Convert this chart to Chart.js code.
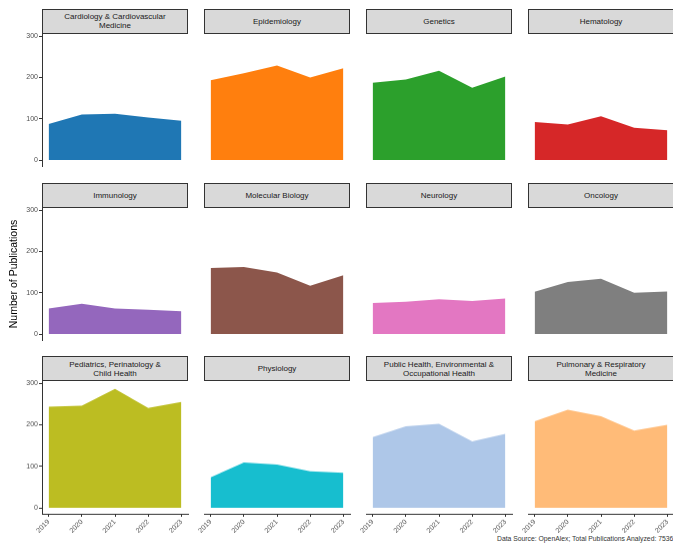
<!DOCTYPE html>
<html>
<head>
<meta charset="utf-8">
<script src="https://cdn.jsdelivr.net/npm/chart.js@4"></script>
<style>
  html, body { margin: 0; padding: 0; background: #fff; }
  body { width: 673px; height: 545px; position: relative; overflow: hidden; font-family: "Liberation Sans", Arial, sans-serif; }
  canvas { position: absolute; }
  .strip {
    position: absolute; box-sizing: border-box; height: 25px;
    background: #d9d9d9; border: 1px solid #333;
    display: flex; align-items: center; justify-content: center; text-align: center;
    font-size: 8px; line-height: 9px; color: #1a1a1a;
  }
  #caption { position: absolute; left: 497px; top: 535px; font-size: 6.8px; color: #333; white-space: nowrap; }
</style>
</head>
<body>
<div id="caption">Data Source: OpenAlex; Total Publications Analyzed: 7536</div>
<script>
const years = [2019, 2020, 2021, 2022, 2023];
const yTicks = [0, 100, 200, 300];

const fields = [
  'Cardiology & Cardiovascular Medicine', 'Epidemiology', 'Genetics', 'Hematology',
  'Immunology', 'Molecular Biology', 'Neurology', 'Oncology',
  'Pediatrics, Perinatology & Child Health', 'Physiology',
  'Public Health, Environmental & Occupational Health', 'Pulmonary & Respiratory Medicine'
];

const cardiology = [87, 110, 112, 103, 95];
const epidemiology = [193, 210, 229, 200, 222];
const genetics = [187, 195, 216, 175, 202];
const hematology = [92, 86, 106, 78, 72];
const immunology = [62, 73, 62, 59, 55];
const molecularBiology = [160, 162, 149, 117, 142];
const neurology = [75, 78, 84, 80, 86];
const oncology = [102, 126, 134, 100, 103];
const pediatrics = [243, 246, 286, 240, 255];
const physiology = [73, 109, 104, 88, 84];
const publicHealth = [170, 196, 202, 160, 178];
const pulmonary = [208, 236, 220, 186, 200];

const series = [cardiology, epidemiology, genetics, hematology, immunology, molecularBiology,
  neurology, oncology, pediatrics, physiology, publicHealth, pulmonary];

const colors = ['#1f77b4', '#ff7f0e', '#2ca02c', '#d62728', '#9467bd', '#8c564b',
  '#e377c2', '#7f7f7f', '#bcbd22', '#17becf', '#aec7e8', '#ffbb78'];

// panel geometry (plot area)
const colLeft = [42, 204, 366, 528];
const rowTop = [33.5, 207.5, 381];
const panelW = 146, panelH = 132.5;
const yAxisW = 40, xAxisH = 30;
const tickFont = { family: 'Liberation Sans', size: 7 };

series.forEach((vals, i) => {
  const col = i % 4, row = Math.floor(i / 4);
  const showY = col === 0, showX = row === 2;

  // strip label
  const strip = document.createElement('div');
  strip.className = 'strip';
  strip.style.left = colLeft[col] + 'px';
  strip.style.top = (rowTop[row] - 25) + 'px';
  strip.style.width = panelW + 'px';
  strip.textContent = fields[i];
  if (fields[i].length > 30) strip.style.padding = i === 8 ? '0 22px' : '0 14px';
  document.body.appendChild(strip);

  const padL = showY ? 2 : 20, padT = 5, padR = 4, padB = 5;
  const left = colLeft[col] - (showY ? yAxisW + padL : padL);
  const top = rowTop[row] - padT;
  const w = panelW + (showY ? yAxisW : 0) + padL + padR;
  const h = panelH + (showX ? xAxisH : 0) + padT + padB;

  const cv = document.createElement('canvas');
  cv.width = w; cv.height = h;
  cv.style.left = left + 'px'; cv.style.top = top + 'px';
  cv.style.width = w + 'px'; cv.style.height = h + 'px';
  document.body.appendChild(cv);

  new Chart(cv.getContext('2d'), {
    type: 'line',
    data: {
      datasets: [{
        data: years.map((y, k) => ({ x: y, y: vals[k] })),
        borderWidth: 0,
        borderColor: colors[i],
        backgroundColor: colors[i],
        fill: 'origin',
        pointRadius: 0,
        tension: 0
      }]
    },
    options: {
      responsive: false,
      devicePixelRatio: 1,
      animation: false,
      layout: { padding: { left: padL, top: padT, right: padR, bottom: padB } },
      plugins: { legend: { display: false }, tooltip: { enabled: false } },
      scales: {
        x: {
          type: 'linear',
          display: showX,
          min: 2018.8, max: 2023.2,
          afterBuildTicks: s => { s.ticks = years.map(v => ({ value: v })); },
          afterFit: s => {
            s.height = showX ? xAxisH : 0;
            s.paddingLeft = 0; s.paddingRight = 0;
          },
          grid: { drawOnChartArea: false, drawTicks: true, tickLength: 3, color: '#333' },
          border: { display: true, color: '#333', width: 1 },
          ticks: {
            autoSkip: false, minRotation: 45, maxRotation: 45, padding: 1,
            color: '#4d4d4d', font: tickFont,
            callback: v => String(v)
          }
        },
        y: {
          display: showY,
          min: -14.5, max: 305,
          afterBuildTicks: s => { s.ticks = yTicks.map(v => ({ value: v })); },
          afterFit: s => {
            s.width = showY ? yAxisW : 0;
            s.paddingTop = 0; s.paddingBottom = 0;
          },
          grid: { drawOnChartArea: false, drawTicks: true, tickLength: 3, color: '#333' },
          border: { display: true, color: '#333', width: 1 },
          ticks: { padding: 1, color: '#4d4d4d', font: tickFont },
          title: {
            display: row === 1,
            text: 'Number of Publications',
            color: '#000',
            font: { family: 'Liberation Sans', size: 10.5 },
            padding: { top: 6, bottom: 0 }
          }
        }
      }
    }
  });
});
</script>
</body>
</html>
